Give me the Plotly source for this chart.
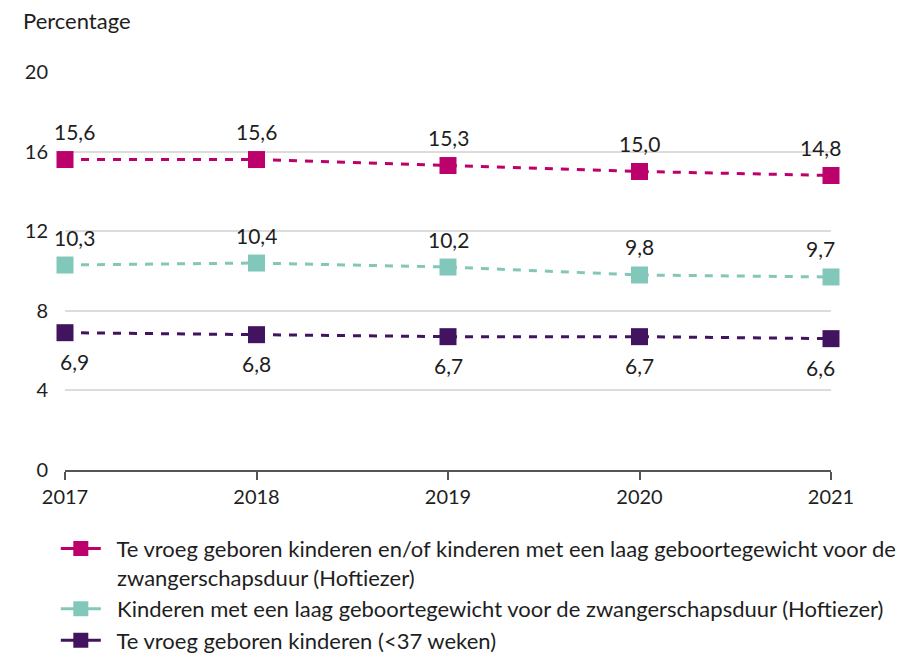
import plotly.graph_objects as go

years = [2017, 2018, 2019, 2020, 2021]
s_combined = [15.6, 15.6, 15.3, 15.0, 14.8]
s_lowweight = [10.3, 10.4, 10.2, 9.8, 9.7]
s_preterm = [6.9, 6.8, 6.7, 6.7, 6.6]

names = [
    "Te vroeg geboren kinderen en/of kinderen met een laag geboortegewicht voor de<br>zwangerschapsduur (Hoftiezer)",
    "Kinderen met een laag geboortegewicht voor de zwangerschapsduur (Hoftiezer)",
    "Te vroeg geboren kinderen (<37 weken)",
]
colors = ["#bc006c", "#82c8ba", "#42145f"]
series = [s_combined, s_lowweight, s_preterm]
label_shift = [28, 28, -29]

y_ticks = [0, 4, 8, 12, 16, 20]
x_ticks = years

FONT = "Lato"
TXT = "#1e1e1e"
PAD = "\u00a0\u00a0"

fig = go.Figure()
for name, col, vals in zip(names, colors, series):
    fig.add_trace(go.Scatter(
        x=years, y=vals, name=name, mode="lines+markers", showlegend=False,
        line=dict(color=col, width=3, dash="8px,8px"),
        marker=dict(symbol="square", size=17, color=col),
        cliponaxis=False, legendgroup=name,
    ))
    # legend entry with solid line, as in the original
    fig.add_trace(go.Scatter(
        x=[None], y=[None], name=PAD + name.replace("<br>", "<br>" + PAD),
        mode="lines+markers", legendgroup=name,
        line=dict(color=col, width=3),
        marker=dict(symbol="square", size=15, color=col),
    ))

annotations = []
for vals, sh in zip(series, label_shift):
    for i, (xv, yv) in enumerate(zip(years, vals)):
        xs = 9 if i == 0 else (-11 if i == len(years) - 1 else 0)
        annotations.append(dict(
            x=xv, y=yv, xref="x", yref="y", text=f"{yv:.1f}".replace(".", ","),
            showarrow=False, yshift=sh, xshift=xs,
            font=dict(family=FONT, size=21, color=TXT),
        ))
annotations.append(dict(
    x=0, y=1, xref="paper", yref="paper", text="Percentage", showarrow=False,
    xanchor="left", yanchor="bottom", xshift=-44, yshift=36,
    font=dict(family=FONT, size=22, color=TXT),
))

fig.update_layout(
    width=914, height=657,
    margin=dict(l=57, r=91, t=64, b=195, autoexpand=False),
    paper_bgcolor="white", plot_bgcolor="white",
    font=dict(family=FONT, size=20, color=TXT),
    showlegend=True,
    legend=dict(
        x=-0.012, y=-0.145, xanchor="left", yanchor="top", orientation="v",
        font=dict(family=FONT, size=22, color=TXT), valign="top",
        itemwidth=40, tracegroupgap=0,
    ),
    annotations=annotations,
    xaxis=dict(
        range=[2017, 2021], tickvals=x_ticks, ticktext=[str(v) for v in x_ticks],
        showgrid=False, zeroline=False, showline=True, linecolor="#555", linewidth=1.5,
        ticks="outside", ticklen=8, tickcolor="#555", tickwidth=1.5,
        tickfont=dict(family=FONT, size=20, color=TXT),
    ),
    yaxis=dict(
        range=[0, 20], tickvals=y_ticks, showgrid=True, gridcolor="#dcdcdc", gridwidth=1.5,
        zeroline=False, showline=False, ticks="", ticklabelstandoff=16,
        tickfont=dict(family=FONT, size=20, color=TXT),
    ),
)

fig.write_html("out.html")
